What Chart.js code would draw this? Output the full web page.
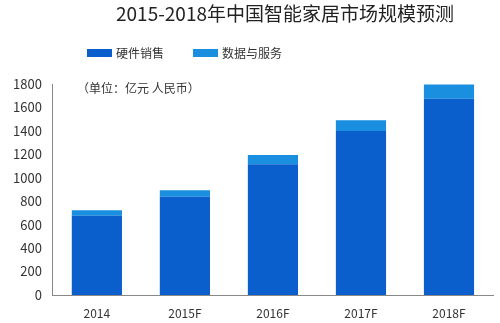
<!DOCTYPE html>
<html>
<head>
<meta charset="utf-8">
<script src="https://cdn.jsdelivr.net/npm/chart.js@4"></script>
<style>
  html, body { margin: 0; padding: 0; background: #fff; }
  #wrap { width: 500px; height: 323px; }
</style>
</head>
<body>
<div id="wrap"><canvas id="marketChart"></canvas></div>
<script>
const years    = ["2014", "2015F", "2016F", "2017F", "2018F"];
const hardware = [676, 839, 1115, 1400, 1675];
const dataSvc  = [46, 54, 79, 90, 120];
const yTicks   = [0, 200, 400, 600, 800, 1000, 1200, 1400, 1600, 1800];

const FONT = "'Noto Sans CJK SC', 'Noto Sans', sans-serif";

// title, legend and unit note, placed like the original
const headerBits = {
    id: "headerBits",
    afterDraw(chart) {
        const c = chart.ctx;
        c.save();
        c.textBaseline = "middle";

        c.font = "19px " + FONT;
        c.fillStyle = "#222";
        c.textAlign = "center";
        c.fillText("2015-2018年中国智能家居市场规模预测", 285, 14);

        c.textAlign = "left";
        c.font = "12px " + FONT;
        const legendX = [87, 193];
        chart.data.datasets.forEach((ds, i) => {
            c.fillStyle = ds.backgroundColor;
            c.fillRect(legendX[i], 49, 25, 8);
            c.fillStyle = "#333";
            c.fillText(ds.label, legendX[i] + 29, 53);
        });

        c.fillText("（单位：亿元 人民币）", 77, 88);
        c.restore();
    }
};

new Chart(document.getElementById("marketChart"), {
    type: "bar",
    data: {
        labels: years,
        datasets: [
            {
                label: "硬件销售",
                data: hardware,
                backgroundColor: "#0a5fcc",
                barPercentage: 0.57,
                categoryPercentage: 1.0
            },
            {
                label: "数据与服务",
                data: dataSvc,
                backgroundColor: "#1a8fe0",
                barPercentage: 0.57,
                categoryPercentage: 1.0
            }
        ]
    },
    options: {
        responsive: true,
        maintainAspectRatio: false,
        animation: false,
        layout: {
            padding: { left: 2, right: 7, top: 84, bottom: 0 }
        },
        plugins: {
            title: { display: false },
            legend: { display: false },
            tooltip: { enabled: false }
        },
        scales: {
            x: {
                stacked: true,
                afterFit: axis => { axis.height = 28; },
                grid: { display: false, drawTicks: false },
                border: { color: "#888" },
                ticks: { color: "#333", font: { family: FONT, size: 12 }, padding: 11 }
            },
            y: {
                stacked: true,
                min: 0,
                max: 1800,
                afterBuildTicks: axis => {
                    axis.ticks = yTicks.map(v => ({ value: v }));
                },
                grid: { display: false, drawTicks: false },
                border: { color: "#888" },
                ticks: {
                    color: "#333",
                    font: { family: FONT, size: 13 },
                    padding: 11,
                    callback: v => String(v)
                }
            }
        }
    },
    plugins: [headerBits]
});
</script>
</body>
</html>
